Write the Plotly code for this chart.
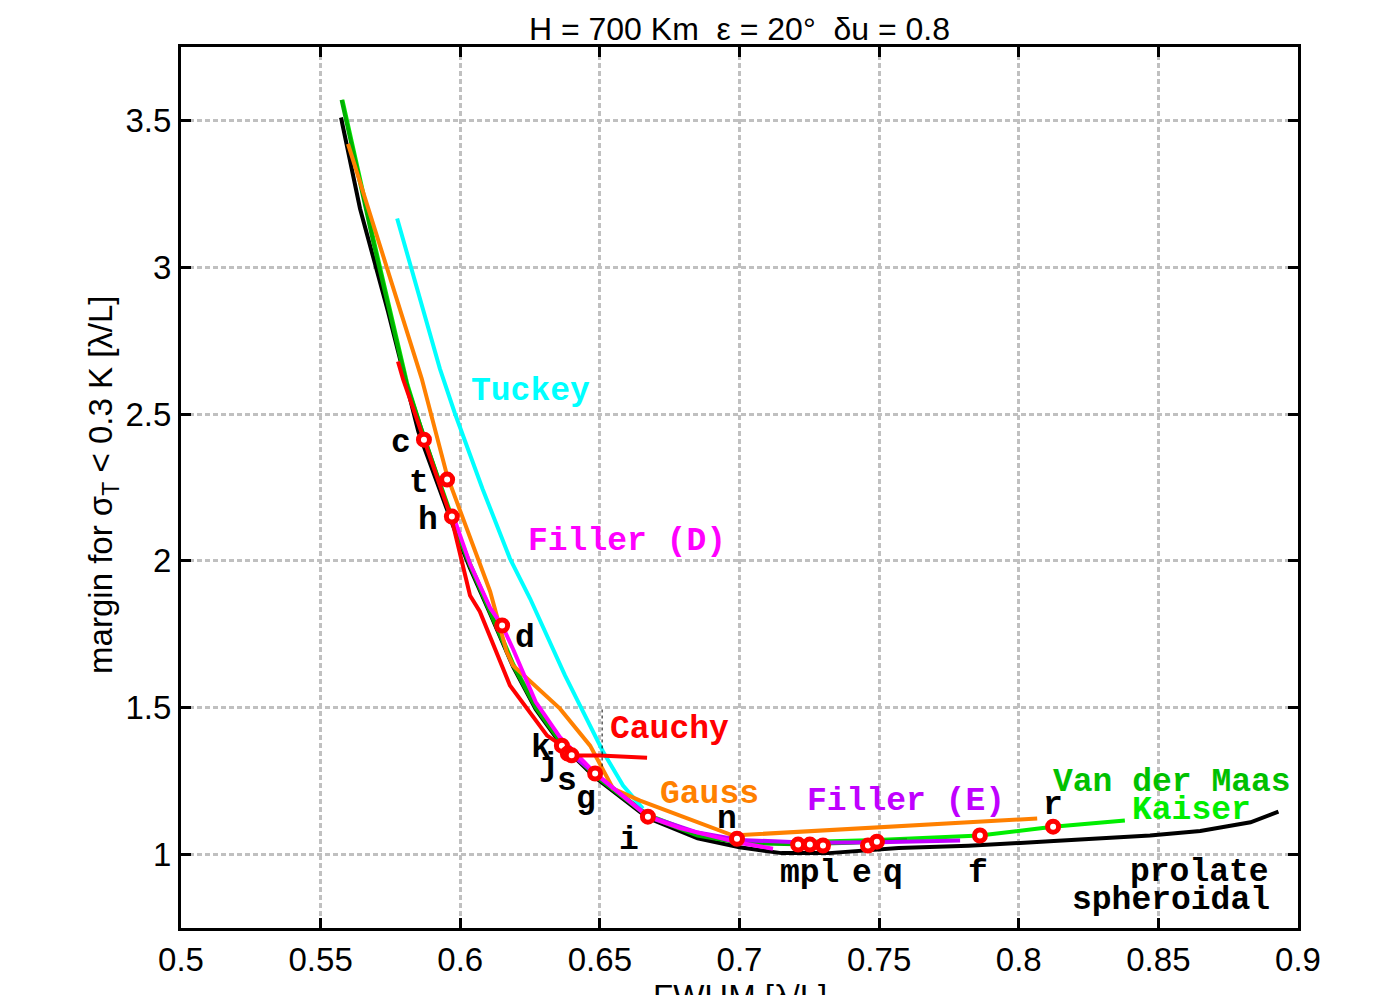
import plotly.graph_objects as go

# ---------------- data ----------------
prolate_x = [0.5573, 0.5641, 0.5741, 0.585, 0.597, 0.6035, 0.6107, 0.6189, 0.627, 0.6357, 0.648, 0.6672, 0.685, 0.700, 0.715, 0.732, 0.757, 0.782, 0.811, 0.847, 0.865, 0.883, 0.893]
prolate_y = [3.51, 3.20, 2.85, 2.44, 2.13, 1.975, 1.82, 1.64, 1.495, 1.38, 1.265, 1.125, 1.055, 1.025, 1.005, 1.005, 1.022, 1.03, 1.045, 1.065, 1.08, 1.11, 1.146]

vdm_x = [0.5575, 0.5690, 0.5808, 0.587, 0.597, 0.6035, 0.6107, 0.6189, 0.627, 0.6357, 0.648, 0.6672, 0.685, 0.700, 0.720, 0.740, 0.760]
vdm_y = [3.57, 3.08, 2.60, 2.42, 2.14, 1.984, 1.828, 1.644, 1.50, 1.385, 1.27, 1.13, 1.065, 1.04, 1.035, 1.04, 1.05]

kaiser_x = [0.5578, 0.5693, 0.5811, 0.587, 0.597, 0.6035, 0.6107, 0.6189, 0.627, 0.6357, 0.648, 0.6672, 0.685, 0.700, 0.720, 0.7492, 0.7861, 0.8123, 0.838]
kaiser_y = [3.57, 3.08, 2.60, 2.42, 2.15, 1.99, 1.835, 1.65, 1.505, 1.39, 1.275, 1.135, 1.07, 1.045, 1.042, 1.05, 1.065, 1.095, 1.116]

cauchy_x = [0.5777, 0.5795, 0.587, 0.597, 0.6035, 0.607, 0.6178, 0.6311, 0.6364, 0.6399, 0.6418, 0.650, 0.6669]
cauchy_y = [2.679, 2.62, 2.413, 2.14, 1.882, 1.828, 1.576, 1.405, 1.371, 1.345, 1.337, 1.337, 1.33]

tuckey_x = [0.5774, 0.5927, 0.5981, 0.6080, 0.6178, 0.625, 0.6375, 0.6511, 0.6583, 0.6654]
tuckey_y = [3.166, 2.655, 2.502, 2.245, 2.008, 1.872, 1.61, 1.351, 1.235, 1.157]

gauss_x = [0.5598, 0.5862, 0.5953, 0.6107, 0.6166, 0.6189, 0.6357, 0.6465, 0.6547, 0.6644, 0.6787, 0.6977, 0.7933, 0.8066]
gauss_y = [3.42, 2.621, 2.29, 1.896, 1.691, 1.644, 1.497, 1.371, 1.225, 1.184, 1.133, 1.065, 1.116, 1.123]

fillerD_x = [0.598, 0.6035, 0.6107, 0.615, 0.6189, 0.627, 0.6357, 0.648, 0.6672, 0.6787, 0.700, 0.712]
fillerD_y = [2.14, 1.99, 1.84, 1.78, 1.70, 1.52, 1.40, 1.28, 1.129, 1.09, 1.04, 1.02]

fillerE_x = [0.640, 0.6483, 0.6672, 0.685, 0.700, 0.725, 0.750, 0.779]
fillerE_y = [1.34, 1.275, 1.132, 1.075, 1.05, 1.04, 1.042, 1.048]

pt_names = ["c", "t", "h", "d", "k", "j", "s", "g", "i", "n", "m", "p", "l", "e", "q", "f", "r"]
pt_x = [0.587, 0.5953, 0.597, 0.615, 0.6364, 0.6385, 0.6399, 0.6483, 0.6672, 0.6991, 0.721, 0.7252, 0.7299, 0.746, 0.7492, 0.7861, 0.8123]
pt_y = [2.413, 2.277, 2.151, 1.780, 1.371, 1.344, 1.338, 1.276, 1.129, 1.054, 1.034, 1.034, 1.031, 1.031, 1.044, 1.065, 1.095]

lbl_text = ["c", "t", "h", "d", "k", "j", "s", "g", "i", "n", "mpl", "e", "q", "f", "r"]
lbl_x = [0.5788, 0.5852, 0.5885, 0.6232, 0.6289, 0.6318, 0.6382, 0.645, 0.6604, 0.6955, 0.7252, 0.7439, 0.755, 0.7854, 0.8123]
lbl_y = [2.413, 2.277, 2.151, 1.749, 1.375, 1.315, 1.262, 1.20, 1.061, 1.133, 0.949, 0.949, 0.949, 0.949, 1.181]

name_text = ["Tuckey", "Filler (D)", "Cauchy", "Gauss", "Filler (E)", "Van der Maas", "Kaiser", "prolate", "spheroidal"]
name_x = [0.625, 0.6597, 0.6751, 0.6891, 0.7596, 0.8549, 0.862, 0.8649, 0.8545]
name_y = [2.591, 2.080, 1.439, 1.218, 1.194, 1.259, 1.163, 0.952, 0.857]
name_col = ["#00ffff", "#ff00ff", "#ff0000", "#ff8000", "#c000ff", "#00c000", "#00ee00", "#000000", "#000000"]

marker_line_x = [0.6508, 0.6508]
marker_line_y = [1.30, 1.50]

x_ticks = [0.5, 0.55, 0.6, 0.65, 0.7, 0.75, 0.8, 0.85, 0.9]
x_ticklabels = ["0.5", "0.55", "0.6", "0.65", "0.7", "0.75", "0.8", "0.85", "0.9"]
y_ticks = [1, 1.5, 2, 2.5, 3, 3.5]
y_ticklabels = ["1", "1.5", "2", "2.5", "3", "3.5"]

# ---------------- figure ----------------
fig = go.Figure()
LW = 4
curves = [
    (kaiser_x, kaiser_y, "#00ee00"),
    (prolate_x, prolate_y, "#000000"),
    (vdm_x, vdm_y, "#00b000"),
    (tuckey_x, tuckey_y, "#00ffff"),
    (gauss_x, gauss_y, "#ff8000"),
    (fillerE_x, fillerE_y, "#c000ff"),
    (fillerD_x, fillerD_y, "#ff00ff"),
    (cauchy_x, cauchy_y, "#ff0000"),
]
for cx, cy, col in curves:
    fig.add_trace(go.Scatter(x=cx, y=cy, mode="lines", line=dict(color=col, width=LW),
                             showlegend=False, hoverinfo="skip"))

fig.add_trace(go.Scatter(x=marker_line_x, y=marker_line_y, mode="lines",
                         line=dict(color="black", width=1, dash="dot"), showlegend=False, hoverinfo="skip"))

fig.add_trace(go.Scatter(x=pt_x, y=pt_y, mode="markers", text=pt_names,
                         marker=dict(symbol="circle", size=11, color="white", line=dict(color="#ff0000", width=5)),
                         showlegend=False))

mono = "Liberation Mono"
for t, x, y in zip(lbl_text, lbl_x, lbl_y):
    fig.add_annotation(x=x, y=y, text=t, showarrow=False, xanchor="center", yanchor="middle", yshift=-4,
                       font=dict(family=mono, size=33, color="black", weight="bold"))
for t, x, y, c in zip(name_text, name_x, name_y, name_col):
    fig.add_annotation(x=x, y=y, text=t, showarrow=False, xanchor="center", yanchor="middle", yshift=-4,
                       font=dict(family=mono, size=33, color=c, weight="bold"))

sans = "Liberation Sans"
# y-axis title
fig.add_annotation(xref="paper", yref="paper", x=-0.0698, y=0.503, text="margin for σ<sub>T</sub> < 0.3 K [λ/L]",
                   showarrow=False, textangle=-90, xanchor="center", yanchor="middle",
                   font=dict(family=sans, size=33, color="black"))
# x-axis title (partly cut off at bottom)
fig.add_annotation(xref="paper", yref="paper", x=0.5, y=0, yshift=-48, text="FWHM [λ/L]",
                   showarrow=False, xanchor="center", yanchor="top",
                   font=dict(family=sans, size=33, color="black"))

axis_common = dict(showline=True, linecolor="black", linewidth=3, mirror="ticks",
                   ticks="inside", ticklen=10, tickwidth=3, tickcolor="black",
                   showgrid=True, gridcolor="#c0c0c0", gridwidth=3, griddash="5px,3px",
                   zeroline=False, tickfont=dict(family=sans, size=33, color="black"))

fig.update_xaxes(range=[0.5, 0.9], tickvals=x_ticks, ticktext=x_ticklabels, **axis_common)
fig.update_yaxes(range=[0.75, 3.75], tickvals=y_ticks, ticktext=y_ticklabels, **axis_common)

fig.update_layout(
    width=1397, height=995,
    margin=dict(l=181, r=99, t=47, b=67),
    paper_bgcolor="white", plot_bgcolor="white",
    title=dict(text="H = 700 Km  ε = 20°  δu = 0.8", x=0.5, xref="paper", xanchor="center",
               y=1 - 29 / 995, yref="container", yanchor="middle",
               font=dict(family=sans, size=32, color="black")),
)

fig.write_html("out.html", config={"displayModeBar": False},
               post_script="document.body.style.margin='0';document.body.style.overflow='hidden';")
